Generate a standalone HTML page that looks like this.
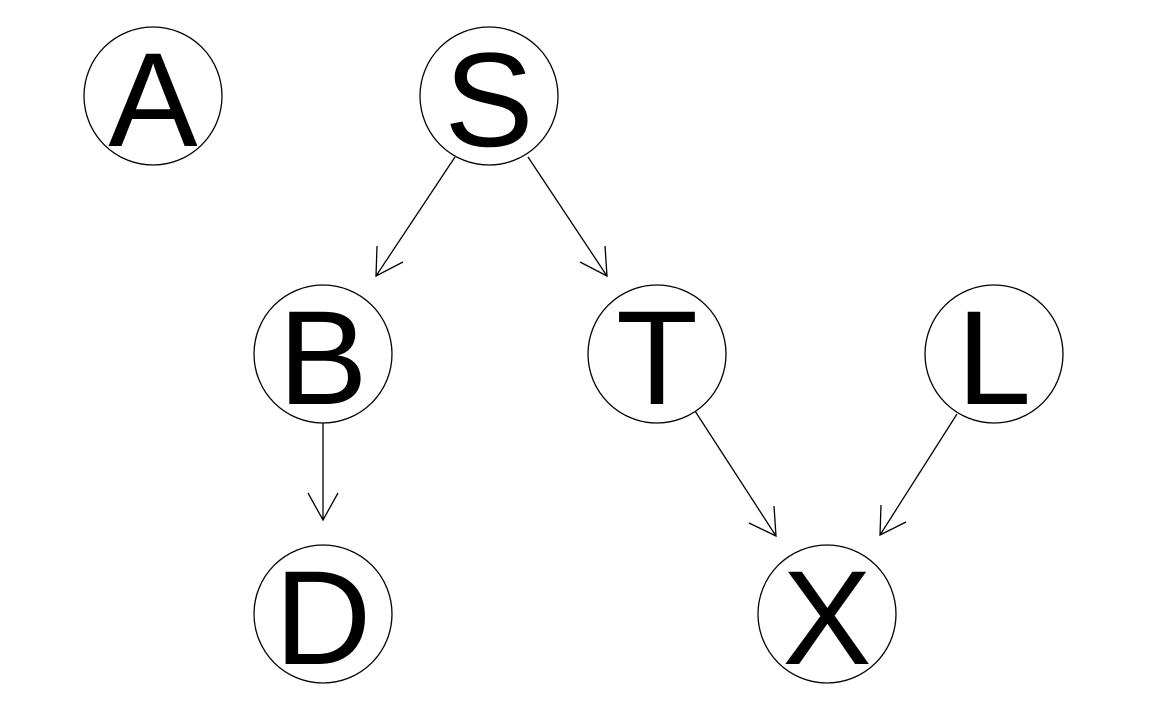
<!DOCTYPE html>
<html><head><meta charset="utf-8"><style>html,body{margin:0;padding:0;background:#fff}svg{display:block}</style></head>
<body>
<svg width="1152" height="711" viewBox="0 0 1152 711" xmlns="http://www.w3.org/2000/svg">
<g fill="none" stroke="#000" stroke-width="1.3">
<circle cx="153" cy="96" r="69"/>
<circle cx="489" cy="96" r="69"/>
<circle cx="323" cy="354" r="69"/>
<circle cx="657" cy="354" r="69"/>
<circle cx="994" cy="354" r="69"/>
<circle cx="323" cy="614" r="69"/>
<circle cx="827" cy="614" r="69"/>
<line x1="455" y1="157" x2="376" y2="276"/>
<polyline points="377,246 376,276 403,262"/>
<line x1="528" y1="157" x2="607" y2="276"/>
<polyline points="580,262 607,276 605,246"/>
<line x1="323" y1="423" x2="323" y2="520"/>
<polyline points="308,493 323,520 338,493"/>
<line x1="695" y1="411" x2="776" y2="536"/>
<polyline points="749,523 776,536 774,506"/>
<line x1="957" y1="414" x2="880" y2="535"/>
<polyline points="881,505 880,535 906,522"/>
</g>
<g font-family="Liberation Sans, sans-serif" font-size="134" text-anchor="middle" fill="#000">
<text x="153" y="146">A</text>
<text x="489" y="146">S</text>
<text x="323" y="404">B</text>
<text x="657" y="404">T</text>
<text x="994" y="404">L</text>
<text x="323" y="664">D</text>
<text x="827" y="664">X</text>
</g>
</svg>
</body></html>
